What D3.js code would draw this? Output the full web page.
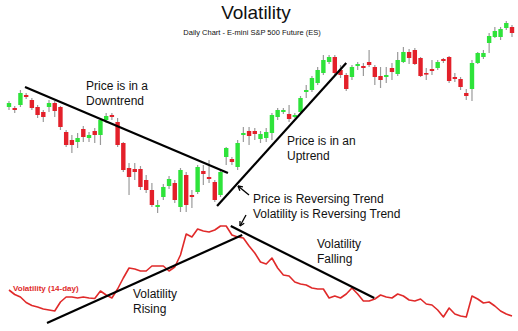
<!DOCTYPE html>
<html>
<head>
<meta charset="utf-8">
<script src="https://cdn.jsdelivr.net/npm/d3@7/dist/d3.min.js"></script>
<style>
  html, body { margin: 0; padding: 0; background: #fff; }
  svg { display: block; font-family: "Liberation Sans", Arial, sans-serif; }
</style>
</head>
<body>
<svg id="chart" width="518" height="331"></svg>
<script>
// Daily E-mini S&P 500 candles (price points) and 14-day volatility
const openPx  = [123,122,125,135,130,123,118,123,127,123, 98, 90, 88,101, 92, 99, 95,110,115,108,
                  87, 62, 61, 61, 50, 40, 23, 33, 44, 47, 23, 55, 35, 38, 59, 53, 48, 35, 73, 71,
                  63, 95, 99, 99, 91, 92, 97,113,118,116,113,118,138,140,147,157,168,173,160,155,
                 153,164,164,168,163,154,153,162,156,168,178,180,172,157,161,162,171,173,153,151,
                 137,141,167,173,187,193,193,202,203];
const highPx  = [129,124,140,137,132,125,120,130,129,124,100, 95, 97,104, 98,102,112,117,117,112,
                  88, 67, 67, 64, 55, 47, 30, 46, 54, 50, 62, 58, 40, 65, 65, 70, 50, 60, 83, 73,
                  90,103,103,102, 99,102,117,122,122,125,117,134,145,154,163,175,175,175,165,157,
                 165,168,167,180,165,163,163,167,178,183,181,182,173,162,170,170,172,174,157,153,
                 141,170,178,180,197,203,203,209,205];
const lowPx   = [120,117,123,131,120,112,108,118,113,100, 83, 77, 82, 88, 88, 87, 85,107,110, 83,
                  58, 35, 50, 40, 37, 23, 17, 30, 41, 27, 18, 18, 22, 36, 45, 47, 28, 33, 65, 65,
                  60, 88, 85, 90, 87, 88, 90,110,116,108,112,116,132,138,145,155,166,155,152,139,
                 150,160,154,163,145,142,147,150,154,167,166,165,153,150,155,160,167,147,148,140,
                 130,129,166,171,177,192,190,200,193];
const closePx = [127,120,137,133,122,115,113,127,119,103, 85, 85, 92, 93, 95, 95,110,114,113, 85,
                  60, 53, 58, 43, 40, 25, 25, 43, 51, 30, 60, 25, 33, 63, 56, 51, 30, 58, 82, 68,
                  87, 97, 94, 96, 96, 98,115,120,120,111,115,132,140,152,160,170,173,157,155,141,
                 163,166,162,165,153,150,155,158,170,178,172,166,154,156,159,168,169,149,151,143,
                 134,167,177,177,194,199,201,207,197];
const volatility = [40,35.5,33,27.5,24.5,23,21,20,19,28,33,33,32,33,32,31.5,39,35,32,41,
                    52,62,61,59,59,64,64,64,59,63,75,96,93,101,99,98,100,104,104,95,
                    93,92,84,77,68,66,72,62,55,54,48,46,45,42,41,41,32,34,32,36,
                    42,36,29,29,31,35,33,32,36,34,30,29,31,26,25,20,13,22,16,14,
                    13,34,31,27,28,24,19,16,14];

// Trend lines drawn in data space: [day index, value]
const priceDowntrend = [[2.8, 143], [38.3, 57]];
const priceUptrend   = [[36.4, 24], [59.0, 167]];
const volRising      = [[6.65, 7], [40.8, 95]];
const volFalling     = [[38.8, 104], [63.9, 32]];

const titleText = "Volatility";
const subtitleText = "Daily Chart - E-mini S&P 500 Future (ES)";

const svg = d3.select("#chart");
const UP = "#2ee33a", DOWN = "#e3202a", WICK = "#9a9a9a", VOL = "#e02a2a";

const days = d3.range(openPx.length);
const x = d3.scaleLinear().domain([0, days.length - 1]).range([9, 512]);
const yPrice = d3.scaleLinear().domain([0, 230]).range([230, 0]);
const yVol = d3.scaleLinear().domain([0, 330]).range([330, 0]);

// Titles
svg.append("text").attr("x", 256).attr("y", 19).attr("text-anchor", "middle")
  .attr("font-size", 19).attr("fill", "#111").text(titleText);
svg.append("text").attr("x", 252).attr("y", 35).attr("text-anchor", "middle")
  .attr("font-size", 7.5).attr("fill", "#111").text(subtitleText);

// Candles
const candles = svg.append("g");
candles.selectAll("line.wick").data(days).join("line")
  .attr("class", "wick")
  .attr("x1", d => x(d)).attr("x2", d => x(d))
  .attr("y1", d => yPrice(highPx[d])).attr("y2", d => yPrice(lowPx[d]))
  .attr("stroke", WICK).attr("stroke-width", 1.2);
candles.selectAll("rect.body").data(days).join("rect")
  .attr("class", "body")
  .attr("x", d => x(d) - 2.2).attr("width", 4.4)
  .attr("y", d => yPrice(Math.max(openPx[d], closePx[d])))
  .attr("height", d => Math.max(1.6, Math.abs(yPrice(openPx[d]) - yPrice(closePx[d]))))
  .attr("fill", d => closePx[d] >= openPx[d] ? UP : DOWN);

// Volatility line
svg.append("path").datum(days)
  .attr("d", d3.line().x(d => x(d)).y(d => yVol(volatility[d])))
  .attr("fill", "none").attr("stroke", VOL).attr("stroke-width", 1.6)
  .attr("stroke-linejoin", "round");

// Trend lines
const trend = (pts, yScale) => svg.append("line")
  .attr("x1", x(pts[0][0])).attr("y1", yScale(pts[0][1]))
  .attr("x2", x(pts[1][0])).attr("y2", yScale(pts[1][1]))
  .attr("stroke", "#000").attr("stroke-width", 2.2);
trend(priceDowntrend, yPrice);
trend(priceUptrend, yPrice);
trend(volRising, yVol);
trend(volFalling, yVol);

// Annotation arrows
const arrow = (x1, y1, x2, y2) => {
  svg.append("line").attr("x1", x1).attr("y1", y1).attr("x2", x2).attr("y2", y2)
    .attr("stroke", "#000").attr("stroke-width", 1.3);
  const a = Math.atan2(y2 - y1, x2 - x1), L = 5;
  [a + Math.PI - 0.5, a + Math.PI + 0.5].forEach(t => {
    svg.append("line").attr("x1", x2).attr("y1", y2)
      .attr("x2", x2 + L * Math.cos(t)).attr("y2", y2 + L * Math.sin(t))
      .attr("stroke", "#000").attr("stroke-width", 1.3);
  });
};
arrow(249, 195, 238, 186);
arrow(246, 215, 240, 226);

// Labels
const label = (lines, lx, ly, opts = {}) => {
  const t = svg.append("text").attr("x", lx).attr("y", ly)
    .attr("font-size", opts.size || 12).attr("fill", opts.fill || "#111")
    .attr("font-weight", opts.weight || "normal");
  lines.forEach((s, i) => t.append("tspan").attr("x", lx).attr("dy", i ? (opts.lh || 15) : 0).text(s));
};
label(["Price is in a", "Downtrend"], 86, 90);
label(["Price is in an", "Uptrend"], 287, 145);
label(["Price is Reversing Trend", "Volatility is Reversing Trend"], 253, 203);
label(["Volatility", "Falling"], 317, 248);
label(["Volatility", "Rising"], 133, 298);
label(["Volatility (14-day)"], 13, 291, { size: 8, weight: "bold", fill: VOL });
</script>
</body>
</html>
